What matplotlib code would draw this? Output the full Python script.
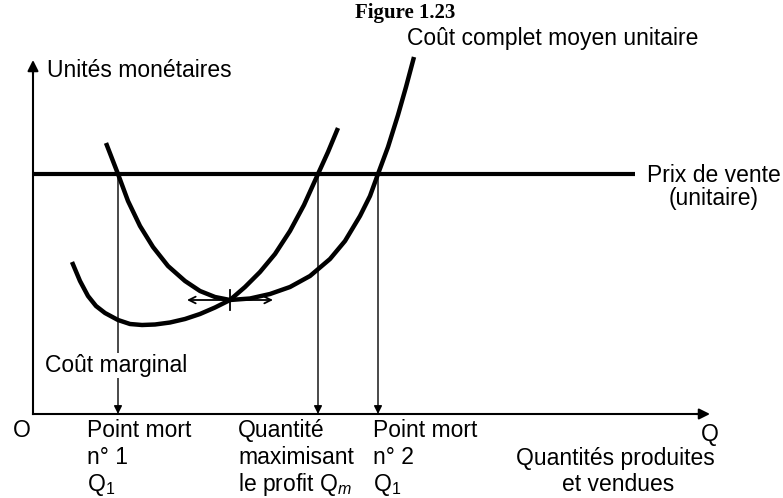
import matplotlib
matplotlib.use('Agg')
from matplotlib import pyplot as plt

plt.rcParams['font.family'] = ['Liberation Sans', 'DejaVu Sans']
plt.rcParams['mathtext.fontset'] = 'custom'
plt.rcParams['mathtext.rm'] = 'Liberation Sans'
plt.rcParams['mathtext.it'] = 'Liberation Sans:italic'

# values (quantity, monetary units; origin at O)
atc_q = [73, 85, 95, 107, 120, 135, 152, 167, 182, 197, 217, 237, 257, 277, 297, 312, 327, 337, 345, 355, 365, 373, 381]
atc_c = [271, 240, 213, 188, 167, 148, 133, 123, 117, 114, 115.5, 120, 127, 138, 155, 173, 198, 218, 240, 267, 299, 327, 357]

mc_q = [39, 47, 55, 63, 72, 85, 97, 109, 122, 137, 152, 167, 182, 197, 212, 227, 242, 257, 271, 285, 295, 305]
mc_c = [152, 133, 118, 108, 101, 94, 90, 89, 89.5, 91.5, 95, 100, 106.5, 114, 127, 142, 160, 183, 209, 240, 262, 286]

price = 240
price_end = 602
q_marks = [85, 285, 345]          # point mort 1, quantité max profit, point mort 2
atc_min = (197, 114)
x_tip, y_tip = 677, 354

FS = 16.5

fig = plt.figure(figsize=(7.83, 4.98), dpi=100)
ax = fig.add_axes([0, 0, 1, 1])
ax.set_xlim(-33, 750)
ax.set_ylim(-84, 414)
ax.axis('off')

# axes with arrows
ax.plot([0, 0], [0, y_tip - 10], color='black', lw=1.5)
ax.plot([0, x_tip - 10], [0, 0], color='black', lw=1.5)
ax.annotate('', xy=(0, y_tip), xytext=(0, y_tip - 14),
            arrowprops=dict(arrowstyle='-|>', color='black', lw=1.5, mutation_scale=16, shrinkA=0, shrinkB=0))
ax.annotate('', xy=(x_tip, 0), xytext=(x_tip - 14, 0),
            arrowprops=dict(arrowstyle='-|>', color='black', lw=1.5, mutation_scale=16, shrinkA=0, shrinkB=0))

# price line and curves
ax.plot([0, price_end], [price, price], color='black', lw=3, solid_capstyle='butt')
ax.plot(atc_q, atc_c, color='black', lw=3.2, solid_capstyle='butt', solid_joinstyle='round')
ax.plot(mc_q, mc_c, color='black', lw=3.2, solid_capstyle='butt', solid_joinstyle='round')

# drop lines
for q in q_marks:
    ax.annotate('', xy=(q, 0), xytext=(q, price),
                arrowprops=dict(arrowstyle='-|>', color='black', lw=1, mutation_scale=12, shrinkA=0, shrinkB=0))

# tangent at minimum of average cost
ax.annotate('', xy=(atc_min[0] - 43, atc_min[1]), xytext=(atc_min[0] + 43, atc_min[1]),
            arrowprops=dict(arrowstyle='<->', color='black', lw=1.3, mutation_scale=12, shrinkA=0, shrinkB=0))
ax.plot([atc_min[0], atc_min[0]], [atc_min[1] - 10, atc_min[1] + 10], color='black', lw=1.3)

# texts
ax.text(372, 396, 'Figure 1.23', family='Liberation Serif', fontweight='bold', fontsize=15,
        ha='center', va='baseline')
ax.text(374, 369, 'Coût complet moyen unitaire', fontsize=FS, va='baseline')
ax.text(14, 337, 'Unités monétaires', fontsize=FS, va='baseline')
ax.text(681, 232, 'Prix de vente', fontsize=FS, ha='center', va='baseline')
ax.text(681, 209, '(unitaire)', fontsize=FS, ha='center', va='baseline')
ax.text(12, 42, 'Coût marginal', fontsize=FS, va='baseline',
        bbox=dict(facecolor='white', edgecolor='none', pad=1))

ax.text(-11, -23, 'O', fontsize=FS, ha='center', va='baseline')
ax.text(677, -27, 'Q', fontsize=FS, ha='center', va='baseline')
ax.text(582, -51, 'Quantités produites', fontsize=FS, ha='center', va='baseline')
ax.text(585, -77, 'et vendues', fontsize=FS, ha='center', va='baseline')

rows = [-23, -50, -77]
labels = [
    (54, ['Point mort', 'n° 1', 'Q$_1$']),
    (205, ['Quantité', 'maximisant', 'le profit Q$_{m}$']),
    (340, ['Point mort', 'n° 2', 'Q$_1$']),
]
for x, lines in labels:
    for y, s in zip(rows, lines):
        ax.text(x, y, s, fontsize=FS, va='baseline')

fig.savefig('out.png', dpi=100)
